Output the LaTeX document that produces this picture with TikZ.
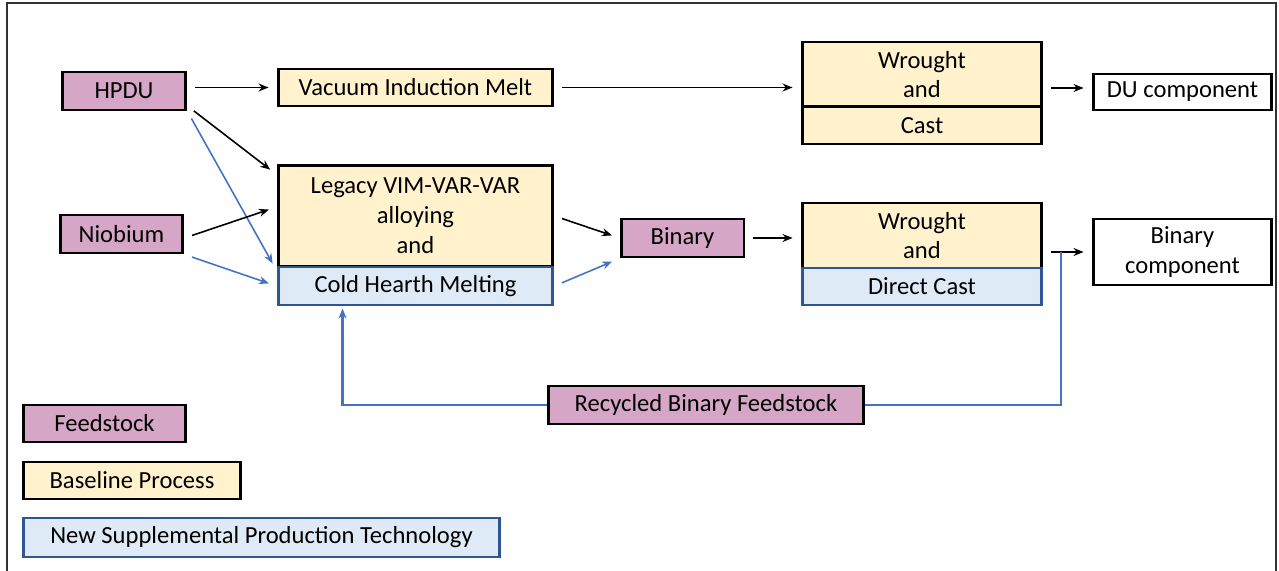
\documentclass[tikz,border=0pt]{standalone}
\usepackage{fontspec}
\setmainfont{Carlito}
\usepackage{xcolor}
\usetikzlibrary{arrows.meta,positioning,calc}

\definecolor{feedpink}{RGB}{213,166,198}
\definecolor{baseyellow}{RGB}{255,242,204}
\definecolor{newblue}{RGB}{222,235,247}
\definecolor{newedge}{RGB}{47,85,151}
\definecolor{flowblue}{RGB}{68,114,196}

\begin{document}
\begin{tikzpicture}[
  x=0.02cm, y=-0.02cm,
  font=\fontsize{14}{17}\selectfont,
  feed/.style={rectangle, draw=black, line width=1.7pt, fill=feedpink, align=center, inner sep=0pt},
  base/.style={rectangle, draw=black, line width=1.7pt, fill=baseyellow, align=center, inner sep=0pt},
  newtech/.style={rectangle, draw=newedge, line width=1.7pt, fill=newblue, align=center, inner sep=0pt},
  product/.style={rectangle, draw=black, line width=1.7pt, fill=white, align=center, inner sep=0pt},
  arrow/.style={-{Stealth[length=2mm,width=1.6mm]}, line width=0.9pt, shorten <=0.16cm, shorten >=0.16cm},
  barrow/.style={arrow, draw=flowblue},
  loop/.style={draw=flowblue, line width=1.3pt}
]
\useasboundingbox (0,0) rectangle (1279,571);
\draw[line width=0.6pt, black!80] (7,571) -- (7,3) -- (1276,3) -- (1276,571);

% feedstock
\node[feed, minimum width=2.48cm, minimum height=0.76cm] (hpdu) at (124,91) {HPDU};
\node[feed, minimum width=2.46cm, minimum height=0.76cm] (niobium) at (121.5,234) {Niobium};

% melting
\node[base, minimum width=5.5cm, minimum height=0.74cm] (vim) at (415.5,87.5) {Vacuum Induction Melt};
\node[base, minimum width=5.5cm, minimum height=2.04cm] (legacy) at (415.5,216) {Legacy VIM-VAR-VAR\\alloying\\and};
\node[newtech, minimum width=5.5cm, minimum height=0.76cm] (cold) at (415.5,286) {Cold Hearth Melting};

\node[feed, minimum width=2.46cm, minimum height=0.76cm] (binary) at (682.5,238) {Binary};

% forming
\node[base, minimum width=4.8cm, minimum height=1.3cm] (wtop) at (922,74.5) {Wrought\\and};
\node[base, minimum width=4.8cm, minimum height=0.74cm] (wtopcast) at (922,125.5) {Cast};
\node[base, minimum width=4.8cm, minimum height=1.3cm] (wbot) at (922,235.5) {Wrought\\and};
\node[newtech, minimum width=4.8cm, minimum height=0.74cm] (wbotcast) at (922,286.5) {Direct Cast};

% products
\node[product, minimum width=3.58cm, minimum height=0.72cm] (du) at (1182.5,92) {DU component};
\node[product, minimum width=3.58cm, minimum height=1.32cm] (bincomp) at (1182.5,252) {Binary\\component};

\node[feed, minimum width=6.32cm, minimum height=0.76cm] (recycled) at (706,405) {Recycled Binary Feedstock};

% legend
\node[feed, minimum width=3.26cm, minimum height=0.74cm] (legfeed) at (104.5,423.5) {Feedstock};
\node[base, minimum width=4.36cm, minimum height=0.74cm] (legbase) at (132,480.5) {Baseline Process};
\node[newtech, minimum width=9.54cm, minimum height=0.78cm] (legnew) at (261.5,537.5) {New Supplemental Production Technology};

% baseline route
\draw[arrow] (hpdu.east |- vim.west) -- (vim.west);
\draw[arrow] (vim.east) -- (vim.east -| wtop.west);
\draw[arrow] ([yshift=0.08cm]du.west -| wtop.east) -- ([yshift=0.08cm]du.west);

% alloying route
\draw[arrow] ([yshift=-0.3cm]hpdu.east) -- ([yshift=-0.22cm]legacy.north west);
\draw[barrow] (hpdu.south east) -- ([yshift=-0.1cm]cold.north west);
\draw[arrow] ([yshift=-0.08cm]niobium.east) -- ([yshift=0.18cm]legacy.west);
\draw[barrow] (niobium.south east) -- (cold.west);
\draw[arrow] (legacy.east) -- (binary.west);
\draw[barrow] (cold.east) -- (binary.south west);
\draw[arrow] (binary.east) -- (binary.east -| wbot.west);
\draw[arrow] (bincomp.west -| wbot.east) -- (bincomp.west);

% recycle loop
\coordinate (tap) at (1061,252);
\draw[loop] (tap) |- (recycled.east);
\draw[loop, -{Stealth[length=2mm,width=1.6mm]}] (recycled.west) -| ([xshift=1.32cm,yshift=-0.04cm]cold.south west);

\end{tikzpicture}
\end{document}
